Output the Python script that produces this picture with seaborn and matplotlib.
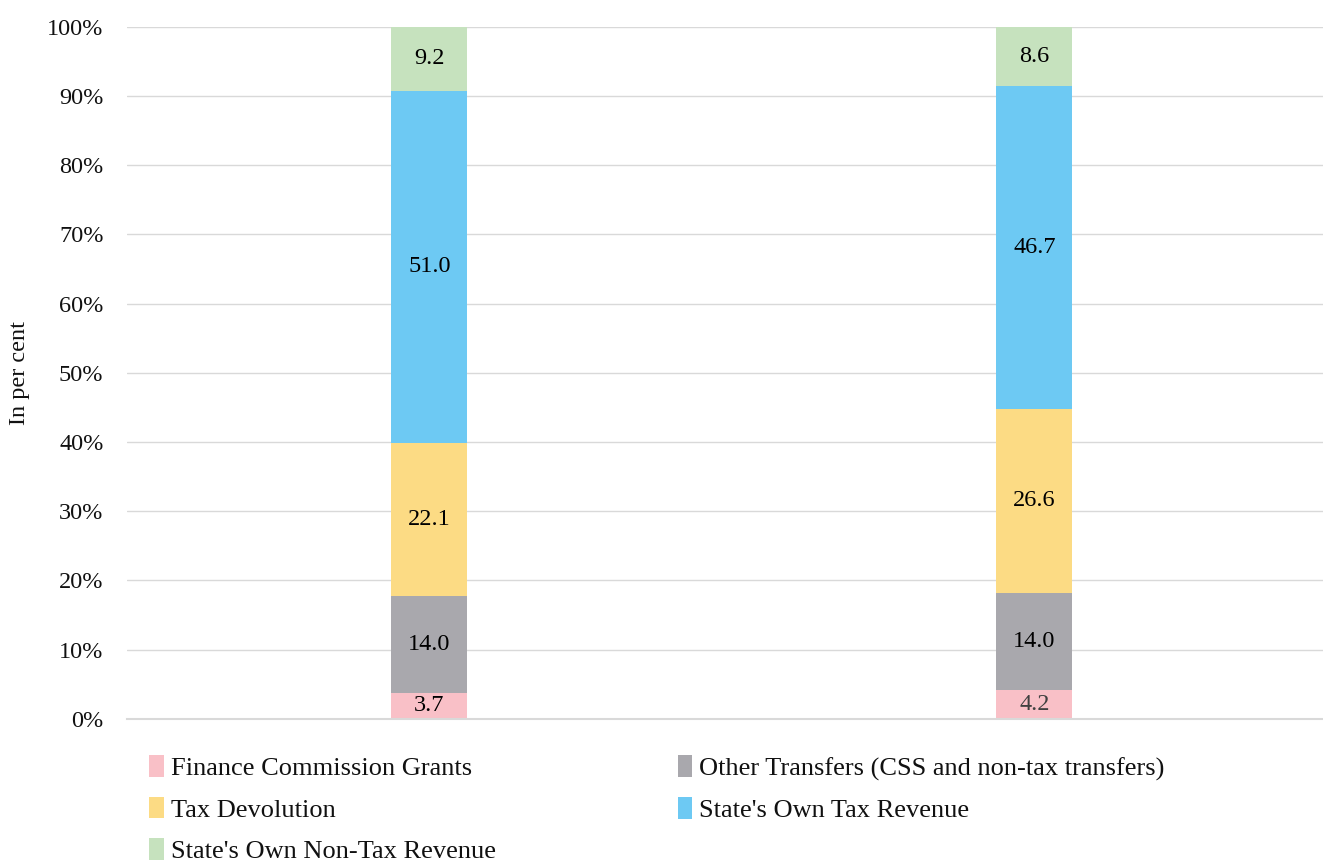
import matplotlib
matplotlib.use("Agg")
import matplotlib.pyplot as plt
import seaborn as sns
import numpy as np
import pandas as pd
from matplotlib.patches import Patch

periods = ["Period 1", "Period 2"]
series_names = ["Finance Commission Grants",
                "Other Transfers (CSS and non-tax transfers)",
                "Tax Devolution",
                "State's Own Tax Revenue",
                "State's Own Non-Tax Revenue"]
fc_grants = [3.7, 4.2]
other_transfers = [14.0, 14.0]
tax_devolution = [22.1, 26.6]
own_tax = [51.0, 46.7]
own_nontax = [9.2, 8.6]
colors = ["#F9C0C7", "#A9A8AD", "#FCDB84", "#6DC9F3", "#C6E2BE"]
label_colors = [["#000000", "#404040"], ["#000000", "#000000"], ["#000000", "#000000"],
                ["#000000", "#000000"], ["#000000", "#000000"]]

sns.set_theme(style="white")
plt.rcParams["font.family"] = ["Liberation Serif", "DejaVu Serif"]
plt.rcParams["text.color"] = "#111111"
plt.rcParams["axes.labelcolor"] = "#111111"
plt.rcParams["ytick.color"] = "#111111"

layers = [fc_grants, other_transfers, tax_devolution, own_tax, own_nontax]
cum = np.cumsum(np.array(layers), axis=0)
cum = np.minimum(cum, 100.0)

fig = plt.figure(figsize=(13.23, 8.66), dpi=100)
ax = fig.add_axes([127 / 1323, 0.170, 1196 / 1323, 0.799])

for k in range(len(layers) - 1, -1, -1):
    df = pd.DataFrame({"period": periods, "value": cum[k]})
    sns.barplot(data=df, x="period", y="value", color=colors[k], width=0.1256,
                saturation=1, ax=ax, zorder=2, linewidth=0, errorbar=None)

for k in range(len(layers)):
    for i in range(len(periods)):
        bottom = cum[k - 1][i] if k > 0 else 0.0
        mid = (bottom + cum[k][i]) / 2
        ax.text(i, mid, f"{layers[k][i]:.1f}", ha="center", va="center",
                fontsize=17.5, color=label_colors[k][i], zorder=3)

ax.set_xlim(-0.5, 1.477)
ax.set_ylim(0, 100)
ax.set_yticks(np.arange(0, 101, 10))
ax.set_yticklabels([f"{v}%" for v in range(0, 101, 10)], fontsize=17.5)
ax.yaxis.grid(True, color="#D9D9D9", linewidth=1, zorder=0)
ax.set_axisbelow(True)
ax.tick_params(axis="y", length=0, pad=17)
ax.set_xticks([])
ax.set_xlabel("")
ax.set_ylabel("In per cent", fontsize=17.5, labelpad=12)
for s in ["top", "right", "left"]:
    ax.spines[s].set_visible(False)
ax.spines["bottom"].set_color("#D9D9D9")
ax.spines["bottom"].set_linewidth(1.5)

order = [0, 2, 4, 1, 3]
handles = [Patch(facecolor=colors[j], edgecolor="none") for j in order]
labels = [series_names[j] for j in order]
fig.legend(handles, labels, loc="upper left", bbox_to_anchor=(0.113, 0.128),
           ncol=2, frameon=False, fontsize=19, handlelength=0.55, handleheight=0.9,
           handletextpad=0.25, columnspacing=6.9, labelspacing=0.62, borderaxespad=0,
           borderpad=0)

fig.savefig("out.png", dpi=100)
